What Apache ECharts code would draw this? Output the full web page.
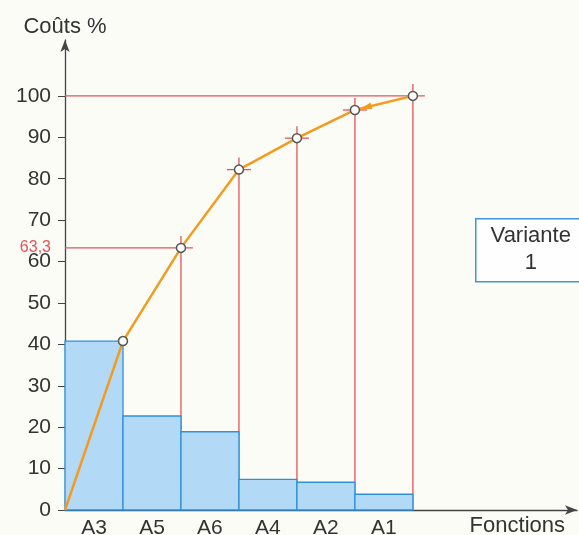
<!DOCTYPE html>
<html>
<head>
<meta charset="utf-8">
<script src="https://cdn.jsdelivr.net/npm/echarts@6/dist/echarts.min.js"></script>
<style>
html,body{margin:0;padding:0;background:#fcfcf7;}
#chart{width:579px;height:535px;}
</style>
</head>
<body>
<div id="chart"></div>
<script>
// ---- data ----
const categories = ['A3', 'A5', 'A6', 'A4', 'A2', 'A1'];
const costs = [40.8, 22.7, 18.9, 7.4, 6.7, 3.8];          // bar heights (%)
const cumulative = [0, 40.8, 63.3, 82.2, 89.8, 96.6, 100]; // cumulative curve (%)
const yTickValues = [0, 10, 20, 30, 40, 50, 60, 70, 80, 90, 100];
const markedValues = [63.3, 100];   // values with a full horizontal reference line
const guideIndices = [2, 3, 4, 5, 6]; // points with red guide lines
const markedLabel = '63,3';
const arrowSegment = [6, 5];        // arrow drawn on the segment from point 6 toward point 5

const FONT = '"Liberation Sans", Arial, sans-serif';
const RED = '#e2545a';
const ORANGE = '#f49b1f';

const chart = echarts.init(document.getElementById('chart'));

const barData = costs.map((v, i) => [i, v]);
const lineData = cumulative.map((v, i) => ({
  value: [i, v],
  symbol: i === 0 ? 'none' : 'circle'
}));
const guideData = guideIndices.map(i => [i, cumulative[i], markedValues.indexOf(cumulative[i]) >= 0 ? 1 : 0]);
const arrowData = [[arrowSegment[0], cumulative[arrowSegment[0]], arrowSegment[1], cumulative[arrowSegment[1]]]];

const xLabelValues = categories.map((c, i) => i + 0.5);

chart.setOption({
  backgroundColor: '#fcfcf7',
  animation: false,
  grid: { left: 65, right: 2, top: 40, bottom: 25, containLabel: false, outerBoundsMode: 'none' },
  xAxis: {
    type: 'value',
    min: 0,
    max: 8.83,
    splitLine: { show: false },
    axisLine: { show: true, lineStyle: { color: '#444', width: 1.3 }, symbol: ['none', 'arrow'], symbolSize: [7, 12] },
    axisTick: { show: false },
    axisLabel: {
      customValues: xLabelValues,
      formatter: v => categories[Math.floor(v)] || '',
      color: '#333', fontSize: 21, fontFamily: FONT, margin: 8
    },
    name: 'Fonctions',
    nameLocation: 'end',
    nameGap: -12,
    nameTextStyle: { color: '#333', fontSize: 22, fontFamily: FONT, align: 'right', verticalAlign: 'top', padding: [5, 0, 0, 0] }
  },
  yAxis: {
    type: 'value',
    min: 0,
    max: 113.5,
    splitLine: { show: false },
    axisLine: { show: true, lineStyle: { color: '#444', width: 1.3 }, symbol: ['none', 'arrow'], symbolSize: [7, 12] },
    axisTick: { show: true, customValues: yTickValues, length: 7, lineStyle: { color: '#444' } },
    axisLabel: {
      customValues: yTickValues.concat([markedValues[0]]),
      formatter: v => (Math.abs(v - markedValues[0]) < 1e-6 ? '{r|' + markedLabel + '}' : String(v)),
      color: '#333', fontSize: 21, fontFamily: FONT, margin: 14,
      rich: { r: { color: RED, fontSize: 16, fontFamily: FONT } }
    },
    name: 'Coûts %',
    nameLocation: 'end',
    nameGap: 2,
    nameTextStyle: { color: '#333', fontSize: 22, fontFamily: FONT, align: 'center' }
  },
  graphic: [{
    type: 'group',
    left: 475, top: 218,
    children: [
      { type: 'rect', shape: { x: 0, y: 0, width: 110, height: 63 }, style: { fill: '#fefefe', stroke: '#3f95dd', lineWidth: 1.5 } },
      { type: 'text', x: 55, y: 31, style: { text: 'Variante\n1', fontSize: 22, lineHeight: 27, fontFamily: FONT, fill: '#333', align: 'center', verticalAlign: 'middle' } }
    ]
  }],
  series: [
    {
      type: 'custom',
      name: 'guides',
      z: 1,
      data: guideData,
      encode: { x: 0, y: 1 },
      renderItem: (params, api) => {
        const x = api.value(0), y = api.value(1), full = api.value(2);
        const p = api.coord([x, y]);
        const base = api.coord([x, 0]);
        const origin = api.coord([0, y]);
        const ext = 12;
        return {
          type: 'group',
          children: [
            { type: 'line', shape: { x1: base[0], y1: base[1], x2: p[0], y2: p[1] - ext }, style: { stroke: RED, lineWidth: 1.3 } },
            { type: 'line', shape: { x1: full ? origin[0] : p[0] - ext, y1: p[1], x2: p[0] + ext, y2: p[1] }, style: { stroke: RED, lineWidth: 1.3 } }
          ]
        };
      }
    },
    {
      type: 'custom',
      name: 'costs',
      z: 2,
      data: barData,
      encode: { x: 0, y: 1 },
      renderItem: (params, api) => {
        const i = api.value(0), v = api.value(1);
        const p0 = api.coord([i, v]);
        const p1 = api.coord([i + 1, 0]);
        return {
          type: 'rect',
          shape: { x: p0[0], y: p0[1], width: p1[0] - p0[0], height: p1[1] - p0[1] },
          style: { fill: '#b2daf6', stroke: '#2f8fd8', lineWidth: 1.3 }
        };
      }
    },
    {
      type: 'line',
      name: 'cumul',
      z: 3,
      data: lineData,
      symbolSize: 9,
      lineStyle: { color: ORANGE, width: 2.5 },
      itemStyle: { color: '#ffffff', borderColor: '#555', borderWidth: 1.5 }
    },
    {
      type: 'custom',
      name: 'arrow',
      z: 4,
      data: arrowData,
      encode: { x: [0, 2], y: [1, 3] },
      renderItem: (params, api) => {
        const a = api.coord([api.value(0), api.value(1)]);
        const b = api.coord([api.value(2), api.value(3)]);
        const dx = a[0] - b[0], dy = a[1] - b[1];
        const len = Math.sqrt(dx * dx + dy * dy);
        const ux = dx / len, uy = dy / len;
        const tip = [b[0] + ux * 6, b[1] + uy * 6];
        const back = [tip[0] + ux * 11, tip[1] + uy * 11];
        const nx = -uy, ny = ux, hw = 3.5;
        return {
          type: 'polygon',
          shape: { points: [tip, [back[0] + nx * hw, back[1] + ny * hw], [back[0] - nx * hw, back[1] - ny * hw]] },
          style: { fill: ORANGE }
        };
      }
    }
  ]
});
</script>
</body>
</html>
